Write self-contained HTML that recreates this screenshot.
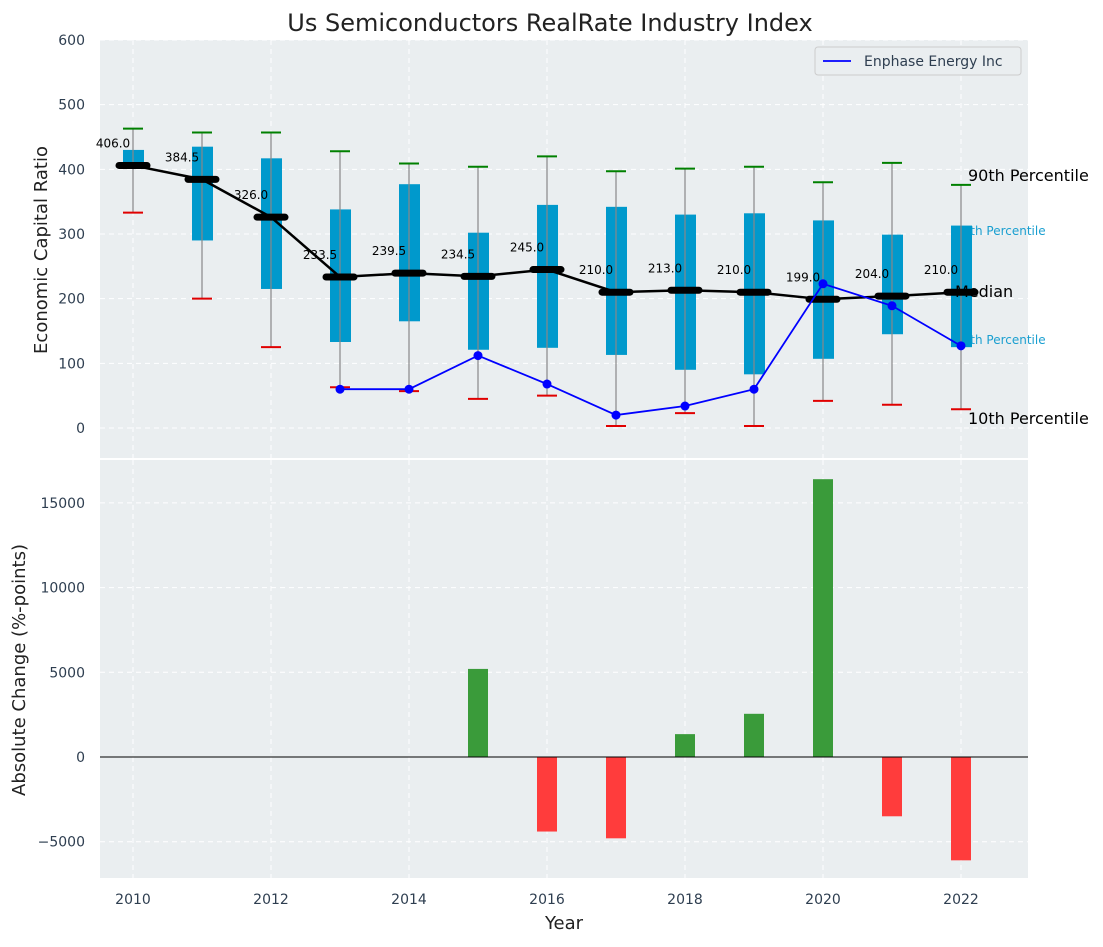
<!DOCTYPE html>
<html><head><meta charset="utf-8"><style>
body{margin:0;background:#fff;font-family:"Liberation Sans","DejaVu Sans",sans-serif}
svg text{font-family:"DejaVu Sans","Liberation Sans",sans-serif}
</style></head><body>
<svg id="c" width="1103" height="942"></svg>
<script>
const years=[2010,2011,2012,2013,2014,2015,2016,2017,2018,2019,2020,2021,2022];
const p90=[463,457,457,428,409,404,420,397,401,404,380,410,376];
const p75=[430,435,417,338,377,302,345,342,330,332,321,299,313];
const medians=[406,384.5,326,233.5,239.5,234.5,245,210,213,210,199,204,210];
const p25=[406,290,215,133,165,121,124,113,90,83,107,145,125];
const p10=[333,200,125,63,57,45,50,3,23,3,42,36,29];
const enphYears=[2013,2014,2015,2016,2017,2018,2019,2020,2021,2022];
const enphVals=[60,60,112,68,20,34,60,223,189,127];
const chgYears=[2015,2016,2017,2018,2019,2020,2021,2022];
const chgVals=[5200,-4400,-4800,1350,2550,16400,-3500,-6100];
const yTicksTop=[0,100,200,300,400,500,600];
const yTicksBot=[-5000,0,5000,10000,15000];
const xTicks=[2010,2012,2014,2016,2018,2020,2022];

const svg=document.getElementById('c');const NS='http://www.w3.org/2000/svg';
function el(t,a,txt){const e=document.createElementNS(NS,t);for(const k in a)e.setAttribute(k,a[k]);if(txt!==undefined)e.textContent=txt;svg.appendChild(e);return e;}
const L=100,R=1028;
const x=v=>133+(v-2010)*69;
const yT=v=>428-v*0.6467;
const yB=v=>757-v*0.01694;

let e;
e=el('rect',{x:L,y:40,width:R-L,height:418,fill:'#eaeef0'});

e=el('rect',{x:L,y:460,width:R-L,height:418,fill:'#eaeef0'});

xTicks.forEach(t=>{
 el('line',{x1:x(t),x2:x(t),y1:40,y2:458,stroke:'#fff','stroke-dasharray':'5,4','stroke-width':1});
 el('line',{x1:x(t),x2:x(t),y1:460,y2:878,stroke:'#fff','stroke-dasharray':'5,4','stroke-width':1});
 e=el('text',{x:x(t),y:904,'font-size':14,fill:'#2e3e50','text-anchor':'middle'},t);
 
});
yTicksTop.forEach(t=>{
 el('line',{x1:L,x2:R,y1:yT(t),y2:yT(t),stroke:'#fff','stroke-dasharray':'5,4'});
 e=el('text',{x:85,y:yT(t)+5,'font-size':14,fill:'#2e3e50','text-anchor':'end'},t);
 
});
yTicksBot.forEach(t=>{
 el('line',{x1:L,x2:R,y1:yB(t),y2:yB(t),stroke:'#fff','stroke-dasharray':'5,4'});
 e=el('text',{x:85,y:yB(t)+5,'font-size':14,fill:'#2e3e50','text-anchor':'end'},t<0?'−'+(-t):t);
 
});
function ann(tx,ty,s,size,col,name){e=el('text',{x:tx,y:ty,'font-size':size,fill:col},s);}
ann(968,181,'90th Percentile',16,'#000','label-90th');
ann(955,235,'75th Percentile',12,'#1a9fd0','label-75th');
ann(955,344,'25th Percentile',12,'#1a9fd0','label-25th');
ann(968,424,'10th Percentile',16,'#000','label-10th');
years.forEach((yr,i)=>{
 const cx=x(yr);
 e=el('rect',{x:cx-10,y:yT(p75[i]),width:21,height:yT(p25[i])-yT(p75[i]),fill:'#0099cc'});
 
 el('line',{x1:cx,x2:cx,y1:yT(p10[i]),y2:yT(p90[i]),stroke:'#888','stroke-width':1.2});
 e=el('line',{x1:cx-10,x2:cx+10,y1:yT(p90[i]),y2:yT(p90[i]),stroke:'#008000','stroke-width':2});
 
 e=el('line',{x1:cx-10,x2:cx+10,y1:yT(p10[i]),y2:yT(p10[i]),stroke:'#e00000','stroke-width':2});
 
});
ann(955,297,'Median',16,'#000','label-median');
e=el('polyline',{points:years.map((y,i)=>x(y)+','+yT(medians[i])).join(' '),fill:'none',stroke:'#000','stroke-width':2.5});

years.forEach((yr,i)=>{
 const cx=x(yr),cy=yT(medians[i]);
 e=el('line',{x1:cx-14,x2:cx+14,y1:cy,y2:cy,stroke:'#000','stroke-width':7,'stroke-linecap':'round'});
 
 e=el('text',{x:cx-20,y:cy-18,'font-size':12,fill:'#000','text-anchor':'middle'},medians[i].toFixed(1));
 
});
e=el('polyline',{points:enphYears.map((y,i)=>x(y)+','+yT(enphVals[i])).join(' '),fill:'none',stroke:'#0000ff','stroke-width':1.8});

enphYears.forEach((yr,i)=>{e=el('circle',{cx:x(yr),cy:yT(enphVals[i]),r:4.5,fill:'#0000ff'});
 });
e=el('rect',{x:815,y:47,width:206,height:28,fill:'#eaeef0',stroke:'#ccc',rx:3});

el('line',{x1:823,x2:851,y1:61,y2:61,stroke:'#0000ff','stroke-width':1.8});
ann(864,66,'Enphase Energy Inc',14,'#2e3e50','legend-entry');
chgYears.forEach((yr,i)=>{
 const v=chgVals[i];const y0=yB(0),y1=yB(v);
 e=el('rect',{x:x(yr)-10,y:Math.min(y0,y1),width:20,height:Math.abs(y1-y0),fill:v>=0?'#3a9b3a':'#ff3c3c'});
 
});
e=el('line',{x1:L,x2:R,y1:yB(0),y2:yB(0),stroke:'#000','stroke-width':1});

e=el('text',{x:550,y:31,'font-size':24,fill:'#222','text-anchor':'middle'},'Us Semiconductors RealRate Industry Index');

e=el('text',{x:564,y:929,'font-size':18,fill:'#222','text-anchor':'middle'},'Year');

e=el('text',{x:0,y:0,'font-size':18,fill:'#222','text-anchor':'middle',transform:'translate(47,250) rotate(-90)'},'Economic Capital Ratio');

e=el('text',{x:0,y:0,'font-size':18,fill:'#222','text-anchor':'middle',transform:'translate(25,670) rotate(-90)'},'Absolute Change (%-points)');

</script></body></html>
